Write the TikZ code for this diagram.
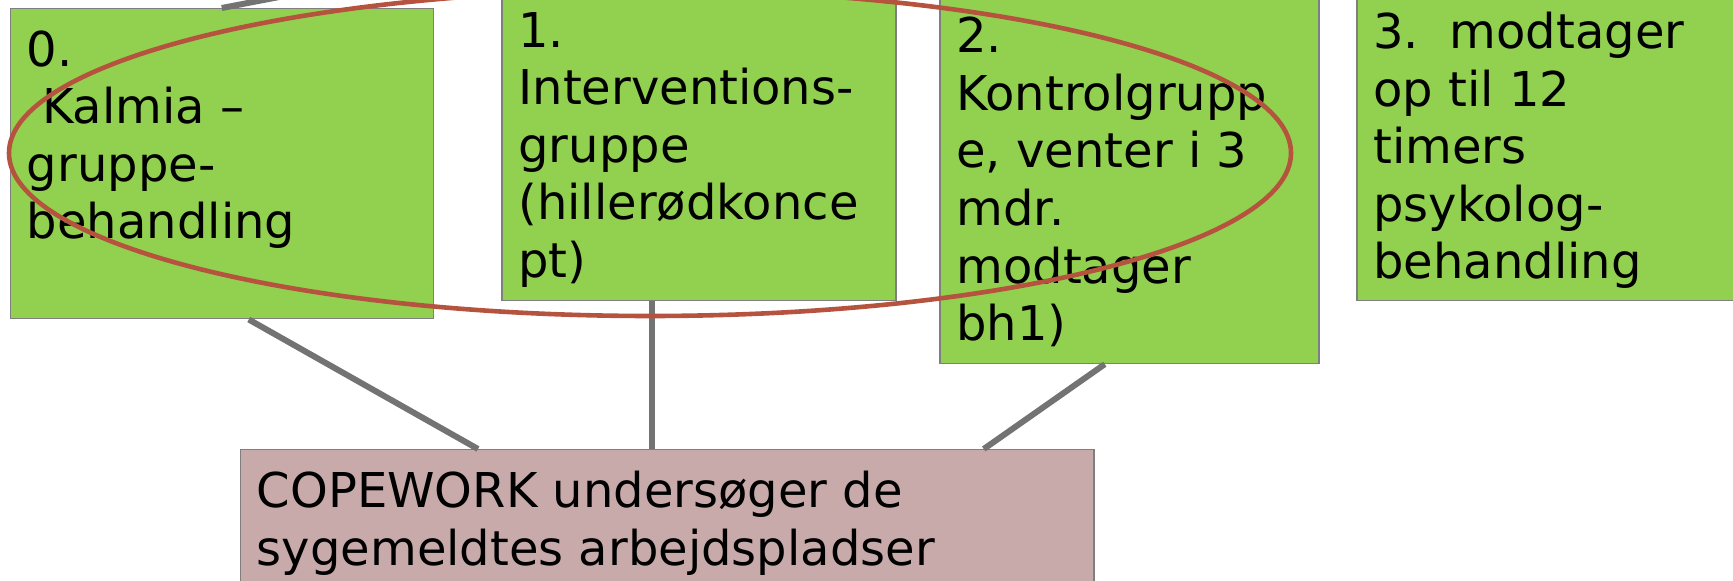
\documentclass[tikz,border=0pt]{standalone}
\usepackage{fontspec}
\setmainfont{DejaVu Sans}
\usepackage{tikz}
\usetikzlibrary{positioning,calc}

\definecolor{grpgreen}{HTML}{92D050}
\definecolor{copepink}{HTML}{C8AAAB}
\definecolor{ringred}{HTML}{B5533F}
\definecolor{edgegray}{HTML}{7F7F7F}
\definecolor{conngray}{HTML}{737373}

\begin{document}
\begin{tikzpicture}[
  x=0.5pt, y=-0.5pt,
  grp/.style={draw=edgegray, line width=0.75pt, fill=grpgreen, anchor=north west, inner sep=0pt, minimum height=155pt},
  cope/.style={draw=edgegray, line width=0.75pt, fill=copepink, anchor=north west, inner sep=0pt, minimum width=426.75pt, minimum height=80pt},
  txt/.style={inner sep=0pt, align=left, font=\fontsize{24}{28.8}\selectfont, execute at begin node={\rule{0pt}{20pt}}},
  conn/.style={draw=conngray, line width=3pt},
  ring/.style={draw=ringred, line width=2.3pt}
]
\useasboundingbox (0,0) rectangle (1733,581);

\node[grp, minimum width=211.5pt] (g0) at (9.5,8) {};
\node[grp, minimum width=197pt] (g1) at (501,-10.3) {};
\node[grp, minimum width=189.5pt, minimum height=184pt] (g2) at (939,-5.3) {};
\node[grp, minimum width=197pt] (g3) at (1356,-10.3) {};
\node[cope] (cw) at (239.5,449) {};

\node[txt, below right=11pt and 8.5pt of g0.north west] (t0) {0.\\\ Kalmia –\\gruppe-\\behandling};
\node[txt, below right=11pt and 8.5pt of g1.north west] (t1) {1.\\Interventions-\\gruppe\\(hillerødkonce\\pt)};
\node[txt, below right=11pt and 8.5pt of g2.north west] (t2) {2.\\Kontrolgrupp\\e, venter i 3\\mdr.\\modtager\\bh1)};
\node[txt, below right=11pt and 8.5pt of g3.north west] (t3) {3.\ \ modtager\\op til 12\\timers\\psykolog-\\behandling};
\node[txt, below right=11pt and 8.5pt of cw.north west] (tcw) {COPEWORK undersøger de\\sygemeldtes arbejdspladser};

% lines to the pink box and up out of the picture
\coordinate (parent) at (650,-74);
\draw[conn] (g0.north) -- (parent);
\draw[conn] ($(g0.south)+(27,0)$) -- ($(cw.north)+(-189,0)$);
\draw[conn] ($(g1.south)+(-46.5,0)$) -- ($(cw.north)+(-14.75,0)$);
\draw[conn] ($(g2.south)+(-24.5,0)$) -- ($(cw.north)+(316.75,0)$);

\draw[ring] (650,153) ellipse [x radius=320.5pt, y radius=81.5pt];
\end{tikzpicture}
\end{document}
